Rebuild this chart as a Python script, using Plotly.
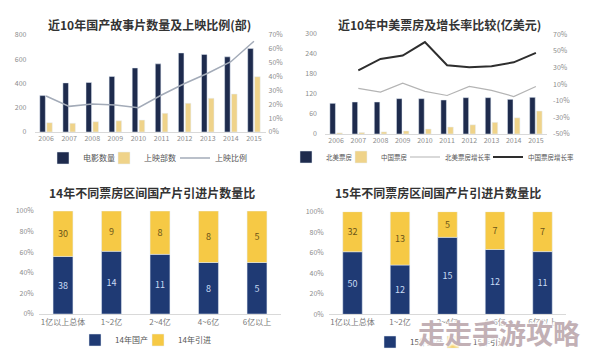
import plotly.graph_objects as go

# The page body has an 8 px margin, so the figure is drawn 8 px in from the
# window's top-left corner; sizes/positions below are in window pixels.
WIN_W, WIN_H = 594, 357
OFF = 8
W, H = WIN_W - 2 * OFF, WIN_H - 2 * OFF
FONT = "Noto Sans CJK SC"

# ---------------- data ----------------
years = ["2006", "2007", "2008", "2009", "2010", "2011", "2012", "2013", "2014", "2015"]

# chart 1
films_total = [300, 405, 408, 458, 528, 562, 652, 640, 620, 688]
films_released = [77, 72, 85, 92, 98, 154, 237, 278, 313, 456]
release_ratio = [26.0, 18.5, 20.2, 19.5, 17.5, 26.7, 35.0, 42.4, 50.7, 65.5]
ratio_ticks = [0, 10, 20, 30, 40, 50, 60, 70]

# chart 2
na_box = [92, 96, 96, 106, 106, 102, 109, 109, 104, 110]
cn_box = [3.3, 4.4, 6.3, 9.1, 15.0, 21, 27.5, 35, 48.5, 69]
na_growth = [None, 5.0, 0.5, 11.3, 1.3, -3.6, 7.3, 2.5, -4.8, 7.3]
cn_growth = [None, 26.7, 40.5, 44.5, 60.7, 32.8, 30.4, 31.6, 36.4, 47.8]
growth_ticks = [-50, -30, -10, 10, 30, 50, 70]

# charts 3 and 4
ranges = ["1亿以上总体", "1~2亿", "2~4亿", "4~6亿", "6亿以上"]
dom14 = [38, 14, 11, 8, 5]
imp14 = [30, 9, 8, 8, 5]
dom15 = [50, 12, 15, 12, 11]
imp15 = [32, 13, 5, 7, 7]

# ---------------- styles ----------------
NAVY_T = "#1e2b4d"
GOLD_T = "#efd38a"
NAVY_B = "#1f3a74"
GOLD_B = "#f6c945"
TICK = dict(family=FONT, size=7, color="#8c8c8c")


def px_x(p):
    return (p - OFF) / W


def px_y(p):
    return 1 - (p - OFF) / H


fig = go.Figure()

# ---- chart 1 ----
fig.add_trace(go.Bar(x=years, y=films_total, name="电影数量", marker_color=NAVY_T,
                     width=0.24, offset=-0.27, xaxis="x", yaxis="y", legend="legend"))
fig.add_trace(go.Bar(x=years, y=films_released, name="上映部数", marker_color=GOLD_T,
                     width=0.24, offset=0.03, xaxis="x", yaxis="y", legend="legend2"))
fig.add_trace(go.Scatter(x=years, y=release_ratio, name="上映比例", mode="lines",
                         line=dict(color="#a3abb8", width=1.5), xaxis="x", yaxis="y2",
                         legend="legend3"))

# ---- chart 2 ----
fig.add_trace(go.Bar(x=years, y=na_box, name="北美票房", marker_color=NAVY_T,
                     width=0.25, offset=-0.28, xaxis="x3", yaxis="y3", legend="legend4"))
fig.add_trace(go.Bar(x=years, y=cn_box, name="中国票房", marker_color=GOLD_T,
                     width=0.25, offset=0.03, xaxis="x3", yaxis="y3", legend="legend5"))
fig.add_trace(go.Scatter(x=years, y=na_growth, name="北美票房增长率", mode="lines",
                         line=dict(color="#b4b4b4", width=1.2), xaxis="x3", yaxis="y4",
                         legend="legend6"))
fig.add_trace(go.Scatter(x=years, y=cn_growth, name="中国票房增长率", mode="lines",
                         line=dict(color="#2e2e2e", width=2), xaxis="x3", yaxis="y4",
                         legend="legend7"))


# ---- charts 3 & 4 ----
def add_pct(dom, imp, xa, ya, lg1, lg2, yr):
    tot = [a + b for a, b in zip(dom, imp)]
    pd_ = [100 * a / t for a, t in zip(dom, tot)]
    pi_ = [100 * b / t for b, t in zip(imp, tot)]
    fig.add_trace(go.Bar(x=ranges, y=pd_, name=yr + "年国产", marker_color=NAVY_B,
                         width=0.41, offset=-0.205, text=[str(v) for v in dom],
                         textposition="inside", insidetextanchor="middle", textangle=0,
                         textfont=dict(family=FONT, size=9, color="#c9dbf5"),
                         xaxis=xa, yaxis=ya, legend=lg1, hoverinfo="skip"))
    fig.add_trace(go.Bar(x=ranges, y=pi_, base=pd_, name=yr + "年引进", marker_color=GOLD_B,
                         width=0.41, offset=-0.205, text=[str(v) for v in imp],
                         textposition="inside", insidetextanchor="middle", textangle=0,
                         textfont=dict(family=FONT, size=9, color="#6b5418"),
                         xaxis=xa, yaxis=ya, legend=lg2, hoverinfo="skip"))


add_pct(dom14, imp14, "x5", "y5", "legend8", "legend9", "14")
add_pct(dom15, imp15, "x6", "y6", "legend10", "legend11", "15")

# ---------------- layout ----------------
xcommon = dict(type="category", showgrid=False, zeroline=False, tickfont=TICK,
               showline=True, linecolor="#d9d9d9", linewidth=1, ticks="", fixedrange=True)
ycommon = dict(showgrid=False, zeroline=False, tickfont=TICK, showline=False, ticks="",
               fixedrange=True)


def leg(text_x, cy, size):
    # text of a plotly legend item starts 40 px right of the legend's left edge
    return dict(orientation="h", xanchor="left", yanchor="middle", x=px_x(text_x - 40),
                y=px_y(cy), bgcolor="rgba(0,0,0,0)", itemwidth=30,
                font=dict(family=FONT, size=size, color="#555555"))


fig.update_layout(
    width=W, height=H, margin=dict(l=0, r=0, t=0, b=0, autoexpand=False),
    paper_bgcolor="white", plot_bgcolor="white",
    barmode="group", showlegend=True,
    font=dict(family=FONT),
    xaxis=dict(xcommon, domain=[px_x(34.5), px_x(265.5)], anchor="y", range=[-0.5, 9.5]),
    yaxis=dict(ycommon, domain=[px_y(132), px_y(35)], range=[0, 800],
               tickvals=[0, 200, 400, 600, 800], anchor="x", ticklabelstandoff=7),
    yaxis2=dict(ycommon, overlaying="y", side="right", anchor="x", range=[0, 70],
                tickvals=ratio_ticks, ticktext=[f"{v}%" for v in ratio_ticks],
                ticklabelstandoff=2),
    xaxis3=dict(xcommon, domain=[px_x(325), px_x(547)], anchor="y3", range=[-0.5, 9.5]),
    yaxis3=dict(ycommon, domain=[px_y(134), px_y(34)], range=[0, 300],
                tickvals=[0, 60, 120, 180, 240, 300], anchor="x3", ticklabelstandoff=7),
    yaxis4=dict(ycommon, overlaying="y3", side="right", anchor="x3", range=[-50, 70.5],
                tickvals=growth_ticks, ticktext=[f"{v}%" for v in growth_ticks],
                ticklabelstandoff=5),
    xaxis5=dict(xcommon, domain=[px_x(38.75), px_x(281.25)], anchor="y5", range=[-0.5, 4.5],
                tickfont=dict(family=FONT, size=8, color="#777")),
    yaxis5=dict(ycommon, domain=[px_y(314), px_y(211)], range=[0, 100], dtick=20,
                ticksuffix="%", anchor="x5", ticklabelstandoff=4),
    xaxis6=dict(xcommon, domain=[px_x(328.75), px_x(566.25)], anchor="y6", range=[-0.5, 4.5],
                tickfont=dict(family=FONT, size=8, color="#777")),
    yaxis6=dict(ycommon, domain=[px_y(314.3), px_y(211.7)], range=[0, 100], dtick=20,
                ticksuffix="%", anchor="x6", ticklabelstandoff=4),
    legend=leg(83, 158, 8),
    legend2=leg(144, 158, 8),
    legend3=leg(215, 158, 8),
    legend4=leg(326, 157, 6.5),
    legend5=leg(381, 157, 6.5),
    legend6=leg(445, 157, 6.5),
    legend7=leg(528, 157, 6.5),
    legend8=leg(115, 340, 8),
    legend9=leg(178, 340, 8),
    legend10=leg(410, 342, 8),
    legend11=leg(473, 342, 8),
)

titles = [
    ("近10年国产故事片数量及上映比例(部)", 149, 25),
    ("近10年中美票房及增长率比较(亿美元)", 439, 25),
    ("14年不同票房区间国产片引进片数量比", 152, 192),
    ("15年不同票房区间国产片引进片数量比", 438, 192),
]
for t, cx, cy in titles:
    fig.add_annotation(text="<b>" + t + "</b>", x=px_x(cx), y=px_y(cy), xref="paper",
                       yref="paper", showarrow=False, xanchor="center", yanchor="middle",
                       font=dict(family=FONT, size=12, color="#333333"))

# watermark present in the reference image (with a white halo that hides what is under it)
fig.add_annotation(text="<b>走走手游攻略</b>", x=px_x(499), y=px_y(332), xref="paper",
                   yref="paper", showarrow=False, xanchor="center", yanchor="middle",
                   font=dict(family=FONT, size=27, color="#c2b0b5",
                             shadow="0 0 3px #fff, 0 0 3px #fff, 0 0 4px #fff, 0 0 4px #fff"))

fig.write_html("out.html")
